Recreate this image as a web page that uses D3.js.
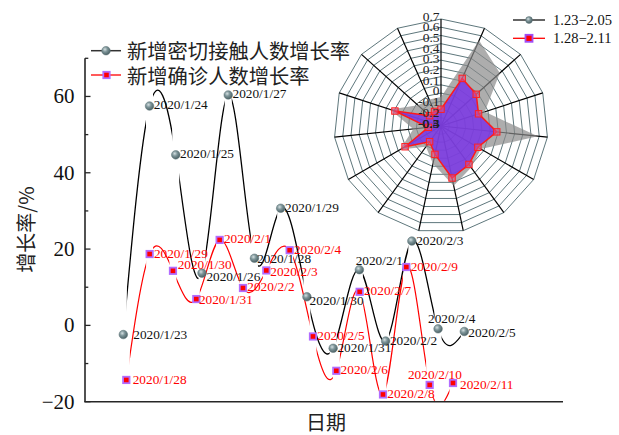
<!DOCTYPE html>
<html>
<head>
<meta charset="utf-8">
<script src="https://cdn.jsdelivr.net/npm/d3@7"></script>
<style>
  body { margin: 0; background: #fff; }
  svg { display: block; }
</style>
</head>
<body>
<svg id="chart" width="619" height="435"></svg>
<script>
// ---- data ----
const contactDates = ["2020/1/23","2020/1/24","2020/1/25","2020/1/26","2020/1/27","2020/1/28","2020/1/29",
                      "2020/1/30","2020/1/31","2020/2/1","2020/2/2","2020/2/3","2020/2/4","2020/2/5"];
const contactRates = [-2.4, 57.5, 44.7, 13.7, 60.4, 17.6, 30.7, 7.5, -6.0, 14.6, -4.1, 22.1, -0.9, -1.6];

const confirmedDates = ["2020/1/28","2020/1/29","2020/1/30","2020/1/31","2020/2/1","2020/2/2","2020/2/3","2020/2/4",
                        "2020/2/5","2020/2/6","2020/2/7","2020/2/8","2020/2/9","2020/2/10","2020/2/11"];
const confirmedRates = [-14.3, 18.7, 14.3, 6.9, 22.4, 9.8, 14.4, 19.7, -2.9, -11.9, 8.8, -18.1, 15.3, -15.6, -15.1];

const yTicks = [-20, 0, 20, 40, 60];
const yMinorTicks = [-10, 10, 30, 50, 70];
const seriesNames = ["新增密切接触人数增长率", "新增确诊人数增长率"];
const xTitle = "日期";
const yTitle = "增长率/%";

// radar inset: growth rate as a fraction, one value per spoke
const radarContact   = [-0.03, 0.575, 0.44, 0.13, 0.61, 0.13, 0.18, 0.27, 0.06, -0.06, 0.14, -0.04, 0.2, -0.01, -0.03];
const radarConfirmed = [-0.143, 0.187, 0.143, 0.069, 0.224, 0.098, 0.144, 0.197, -0.029, -0.119, 0.088, -0.181, 0.153, -0.156, -0.151];
const radarTicks = [0.7, 0.6, 0.5, 0.4, 0.3, 0.2, 0.1, 0, -0.1, -0.2, -0.3, -0.4, -0.5];
const radarNames = ["1.23\u22122.05", "1.28\u22122.11"];

// ---- layout ----
const svg = d3.select("#chart");
const defs = svg.append("defs");
const plot = { left: 85, right: 563, top: 58.3, bottom: 401.7 };
const serif = "'Liberation Serif', 'Times New Roman', serif";
const cjk = "'Noto Sans CJK SC', sans-serif";

const y = d3.scaleLinear().domain([-20, 70]).range([plot.bottom, plot.top]);
const xContact = d3.scalePoint().domain(contactDates).range([123.3, 464.3]);
const xConfirmed = d3.scalePoint().domain(confirmedDates).range([126.3, 453]);

// sphere-like gradient for the round markers
const grad = defs.append("radialGradient").attr("id", "ball")
  .attr("cx", "38%").attr("cy", "35%").attr("r", "65%");
grad.append("stop").attr("offset", "0%").attr("stop-color", "#d4dfe1");
grad.append("stop").attr("offset", "45%").attr("stop-color", "#7d9498");
grad.append("stop").attr("offset", "100%").attr("stop-color", "#4c6266");

// ---- axes ----
const axisG = svg.append("g").attr("stroke", "#262626").attr("stroke-width", 1.6);
axisG.append("line").attr("x1", plot.left).attr("x2", plot.left).attr("y1", plot.top).attr("y2", plot.bottom);
axisG.append("line").attr("x1", plot.left - 0.8).attr("x2", plot.right).attr("y1", plot.bottom).attr("y2", plot.bottom);

svg.append("g").selectAll("line.major").data(yTicks).join("line")
  .attr("x1", plot.left).attr("x2", plot.left + 5.5)
  .attr("y1", d => y(d)).attr("y2", d => y(d))
  .attr("stroke", "#262626").attr("stroke-width", 1.3);
svg.append("g").selectAll("line.minor").data(yMinorTicks).join("line")
  .attr("x1", plot.left).attr("x2", plot.left + 3.3)
  .attr("y1", d => y(d)).attr("y2", d => y(d))
  .attr("stroke", "#262626").attr("stroke-width", 1.3);

svg.append("g").selectAll("text").data(yTicks).join("text")
  .attr("x", 74.5).attr("y", d => y(d))
  .attr("text-anchor", "end").attr("dominant-baseline", "central")
  .attr("font-family", serif).attr("font-size", 21).attr("fill", "#111")
  .text(d => d < 0 ? "\u2212" + Math.abs(d) : d);

svg.append("text")
  .attr("transform", "translate(25,229.5) rotate(-90)")
  .attr("text-anchor", "middle").attr("dominant-baseline", "central")
  .attr("font-family", cjk).attr("font-size", 20).attr("fill", "#222")
  .text(yTitle);

svg.append("text")
  .attr("x", 326).attr("y", 421.5)
  .attr("text-anchor", "middle").attr("dominant-baseline", "central")
  .attr("font-family", cjk).attr("font-size", 20).attr("fill", "#222")
  .text(xTitle);

// ---- spline series, with a small gap left around each symbol ----
function drawSeries(id, dates, values, xs, color, width) {
  const pts = dates.map((d, i) => [xs(d), y(values[i])]);
  const gap = 3.5;
  const clip = defs.append("clipPath").attr("id", id);
  for (let i = 0; i < pts.length - 1; i++) {
    clip.append("rect")
      .attr("x", pts[i][0] + gap).attr("y", plot.top)
      .attr("width", pts[i + 1][0] - pts[i][0] - 2 * gap)
      .attr("height", plot.bottom - plot.top - 1);
  }
  svg.append("path")
    .attr("d", d3.line().curve(d3.curveNatural)(pts))
    .attr("clip-path", `url(#${id})`)
    .attr("fill", "none").attr("stroke", color).attr("stroke-width", width);
  return pts;
}

const contactPts = drawSeries("clipContact", contactDates, contactRates, xContact, "#000", 1.3);
const confirmedPts = drawSeries("clipConfirmed", confirmedDates, confirmedRates, xConfirmed, "#ff0000", 1.2);

// symbols
function ball(g, cx, cy, r) {
  g.append("circle").attr("cx", cx).attr("cy", cy).attr("r", r)
    .attr("fill", "url(#ball)").attr("stroke", "#5d7377").attr("stroke-width", 0.5);
}
function square(g, cx, cy, s) {
  g.append("rect").attr("x", cx - s / 2).attr("y", cy - s / 2).attr("width", s).attr("height", s)
    .attr("fill", "#ff0000").attr("stroke", "#b26cff").attr("stroke-width", 1.8);
}
const symG = svg.append("g");
contactPts.forEach(p => ball(symG, p[0], p[1], 4.3));
confirmedPts.forEach(p => square(symG, p[0], p[1], 6.4));

// date labels beside each symbol
const labelNudge = {
  contact: { "2020/1/23": [10, 0], "2020/1/26": [4.4, 3.4], "2020/1/28": [2.7, 0], "2020/1/30": [2.7, 3.3],
             "2020/2/1": [-3.7, -9], "2020/2/4": [-10, -10], "2020/2/5": [4, 1] },
  confirmed: { "2020/1/28": [6.4, 0], "2020/1/30": [4.7, -6], "2020/1/31": [2.6, 0.3], "2020/2/3": [4, 0.6],
               "2020/2/10": [-21.7, -10], "2020/2/11": [7, 1] }
};
function drawLabels(dates, pts, nudge, color) {
  svg.append("g").selectAll("text").data(dates).join("text")
    .attr("x", (d, i) => pts[i][0] + (nudge[d] ? nudge[d][0] : 4.3))
    .attr("y", (d, i) => pts[i][1] + (nudge[d] ? nudge[d][1] : -1))
    .attr("dominant-baseline", "central")
    .attr("font-family", serif).attr("font-size", 13.3).attr("fill", color)
    .text(d => d);
}
drawLabels(contactDates, contactPts, labelNudge.contact, "#111");
drawLabels(confirmedDates, confirmedPts, labelNudge.confirmed, "#ff0000");

// ---- main legend ----
const lg = svg.append("g");
lg.append("line").attr("x1", 91).attr("x2", 121).attr("y1", 50.7).attr("y2", 50.7)
  .attr("stroke", "#333").attr("stroke-width", 1.5);
ball(lg, 106, 50.7, 4.3);
lg.append("line").attr("x1", 91).attr("x2", 121).attr("y1", 75).attr("y2", 75)
  .attr("stroke", "#ff0000").attr("stroke-width", 1.3);
square(lg, 106.5, 75, 6.4);
lg.selectAll("text").data(seriesNames).join("text")
  .attr("x", 127).attr("y", (d, i) => i === 0 ? 50 : 75)
  .attr("dominant-baseline", "central")
  .attr("font-family", cjk).attr("font-size", 20.3).attr("fill", "#222")
  .text(d => d);

// ---- radar inset ----
const rc = { cx: 441, cy: 126, R: 107 };
const nAxes = radarConfirmed.length;
const rScale = d3.scaleLinear().domain([-0.3, 0.7]).range([0, rc.R]).clamp(true);
const angle = i => i * 2 * Math.PI / nAxes;
const spokePt = (i, r) => [rc.cx + r * Math.sin(angle(i)), rc.cy - r * Math.cos(angle(i))];
const rg = svg.append("g");

const ringCount = 13;
const ringRadii = d3.range(1, ringCount + 1).map(k => rc.R * k / ringCount);
rg.selectAll("path.ring").data(ringRadii).join("path")
  .attr("d", r => d3.line()(d3.range(nAxes).map(i => spokePt(i, r))) + "Z")
  .attr("fill", "none").attr("stroke", "#5e777c").attr("stroke-width", 1);
rg.selectAll("line.spoke").data(d3.range(nAxes)).join("line")
  .attr("x1", rc.cx).attr("y1", rc.cy)
  .attr("x2", i => spokePt(i, rc.R)[0]).attr("y2", i => spokePt(i, rc.R)[1])
  .attr("stroke", "#000").attr("stroke-width", 1.2);

const radarLine = vals => d3.line()(vals.map((v, i) => spokePt(i, rScale(v)))) + "Z";
rg.append("path").attr("d", radarLine(radarContact))
  .attr("fill", "#8a8a8a").attr("fill-opacity", 0.7).attr("stroke", "none");
rg.append("path").attr("d", radarLine(radarConfirmed))
  .attr("fill", "#7a35e6").attr("fill-opacity", 0.85)
  .attr("stroke", "#ff1a1a").attr("stroke-width", 1.5).attr("stroke-linejoin", "round");
rg.selectAll("rect.mk").data(radarConfirmed).join("rect")
  .attr("x", (v, i) => spokePt(i, rScale(v))[0] - 3.2)
  .attr("y", (v, i) => spokePt(i, rScale(v))[1] - 3.2)
  .attr("width", 6.4).attr("height", 6.4)
  .attr("fill", "#e0508a").attr("fill-opacity", 0.55)
  .attr("stroke", "#ff2020").attr("stroke-width", 1);

rg.selectAll("text.tick").data(radarTicks).join("text")
  .attr("x", rc.cx - 1.5).attr("y", v => rc.cy - rScale(v) - 3)
  .attr("text-anchor", "end").attr("dominant-baseline", "central")
  .attr("font-family", serif).attr("font-size", 13.5).attr("fill", "#222")
  .text(v => v);

// radar legend
const rl = svg.append("g");
rl.append("line").attr("x1", 513).attr("x2", 545).attr("y1", 20).attr("y2", 20)
  .attr("stroke", "#111").attr("stroke-width", 1.3);
ball(rl, 529, 20, 3.4);
rl.append("line").attr("x1", 513).attr("x2", 545).attr("y1", 38.3).attr("y2", 38.3)
  .attr("stroke", "#ff0000").attr("stroke-width", 1.3);
rl.append("rect").attr("x", 525.5).attr("y", 34.8).attr("width", 7).attr("height", 7)
  .attr("fill", "#ff0000").attr("stroke", "#a04df5").attr("stroke-width", 1.8);
rl.selectAll("text").data(radarNames).join("text")
  .attr("x", 553).attr("y", (d, i) => i === 0 ? 20 : 38.3)
  .attr("dominant-baseline", "central")
  .attr("font-family", serif).attr("font-size", 14.5).attr("fill", "#111")
  .text(d => d);
</script>
</body>
</html>
